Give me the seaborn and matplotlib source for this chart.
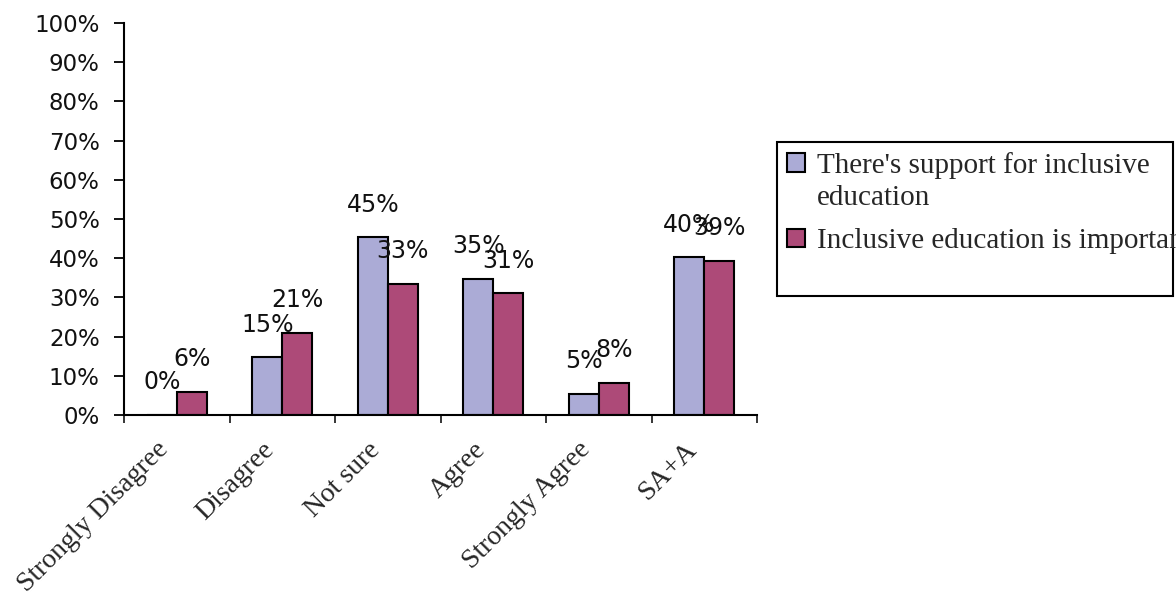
import numpy as np
import pandas as pd
import matplotlib
matplotlib.use("Agg")
import matplotlib.pyplot as plt
import matplotlib.transforms as mtransforms
from matplotlib.patches import Patch, Rectangle
from matplotlib.ticker import FixedLocator, FuncFormatter
import seaborn as sns

# Survey responses (percent of respondents)
categories = ["Strongly Disagree", "Disagree", "Not sure", "Agree", "Strongly Agree", "SA+A"]
support = [0.0, 14.7, 45.3, 34.8, 5.4, 40.2]
important = [5.9, 20.9, 33.4, 31.0, 8.2, 39.4]
series_names = ["There's support for inclusive\neducation", "Inclusive education is important"]
colors = ["#ABABD6", "#AD4A78"]
y_ticks = list(range(0, 101, 10))

df = pd.DataFrame({
    "category": categories * 2,
    "series": [series_names[0]] * len(categories) + [series_names[1]] * len(categories),
    "value": support + important,
})

sns.set_style("white")
plt.rcParams["font.family"] = ["DejaVu Sans"]
serif = "Liberation Serif"

W, H = 1176, 597
fig = plt.figure(figsize=(W / 100, H / 100), dpi=100)
ax = fig.add_axes([124 / W, 1 - 415 / H, 633 / W, 392 / H])

sns.barplot(
    data=df, x="category", y="value", hue="series",
    order=categories, hue_order=series_names, palette=colors,
    width=0.57, edgecolor="black", linewidth=1.5, saturation=1,
    ax=ax, legend=False,
)

# value labels above each bar
for container, vals in zip(ax.containers, [support, important]):
    ax.bar_label(container, labels=[f"{v:.0f}%" for v in vals],
                 padding=15, fontsize=17, color="#111111")

# y axis
ax.set_ylim(0, 100)
ax.yaxis.set_major_locator(FixedLocator(y_ticks))
ax.yaxis.set_major_formatter(FuncFormatter(lambda v, _: f"{v:.0f}%"))
ax.tick_params(axis="y", direction="out", length=7.5, width=1.3, pad=10,
               labelsize=16.5, left=True, colors="black", labelcolor="#111111")

# x axis: ticks at category boundaries, rotated labels
ax.set_xlim(-0.5, len(categories) - 0.5)
ax.set_xticks(range(len(categories)))
ax.set_xticklabels(categories, rotation=45, ha="right", fontfamily=serif, fontsize=20)
ax.xaxis.set_minor_locator(FixedLocator(np.arange(-0.5, len(categories), 1.0)))
ax.tick_params(axis="x", which="major", length=0, pad=16)
ax.tick_params(axis="x", which="minor", direction="out", length=6, width=1.3, bottom=True)
shift = mtransforms.ScaledTranslation(-3 / 100, 0, fig.dpi_scale_trans)
for lbl in ax.get_xticklabels():
    lbl.set_transform(lbl.get_transform() + shift)

ax.set_xlabel("")
ax.set_ylabel("")
for side in ["top", "right"]:
    ax.spines[side].set_visible(False)
for side in ["left", "bottom"]:
    ax.spines[side].set_color("black")
    ax.spines[side].set_linewidth(1.5)

# legend
handles = [Patch(facecolor=c, edgecolor="black", linewidth=1.5) for c in colors]
leg = fig.legend(
    handles, series_names, loc="upper left",
    bbox_to_anchor=(787 / W, 1 - 152 / H), frameon=False,
    prop={"family": serif, "size": 21},
    handlelength=0.6, handleheight=0.6, handletextpad=0.42,
    labelspacing=0.6, borderpad=0, borderaxespad=0,
)
leg.get_texts()[0].set_linespacing(1.3)
first = leg.legend_handles[0]
first.set_y(first.get_y() + 13.6)
fig.add_artist(Rectangle((777 / W, 1 - 296 / H), (1173 - 777) / W, (296 - 142) / H,
                         transform=fig.transFigure, fill=False,
                         edgecolor="black", linewidth=1.5))

fig.savefig("out.png", dpi=100)
